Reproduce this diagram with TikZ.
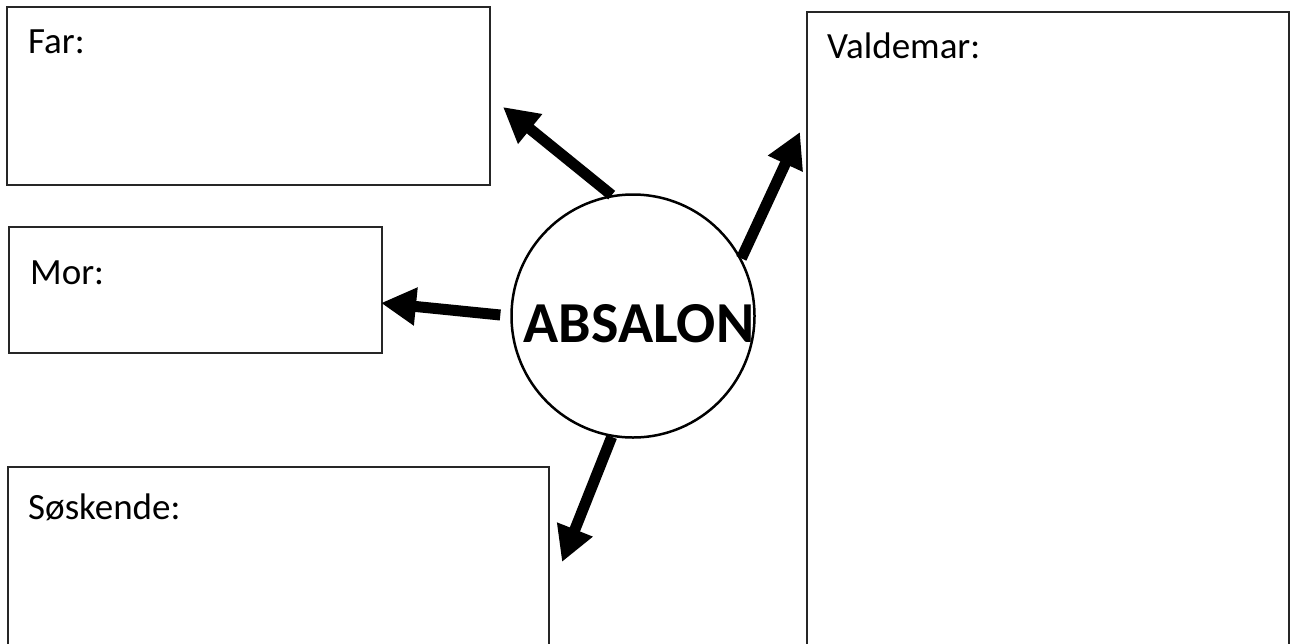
\documentclass[tikz,border=0pt]{standalone}
\usepackage{fontspec}
\setmainfont{Carlito}
\usetikzlibrary{arrows.meta}

\begin{document}
\begin{tikzpicture}[x=1pt,y=-1pt]
		\clip (0,0) rectangle (1290,643); %page
		\tikzset{mybox/.style={draw=black!85,line width=1.2pt,fill=white}}
		\tikzset{mytext/.style={anchor=base west,inner sep=0pt,font=\fontsize{37}{42}\selectfont}}
		\tikzset{bigarrow/.style={line width=11pt,-{Triangle[length=35pt,width=36pt]}}}
		\draw[mybox] (7,7) rectangle (490,185); %boxes
		\draw[mybox] (9,227) rectangle (382,353);
		\draw[mybox] (8,467) rectangle (549,660);
		\draw[mybox] (807,12) rectangle (1289,660);
		\node[mytext] (far) at (28,53) {Far:}; %box titles
		\node[mytext] (mor) at (30,284) {Mor:};
		\node[mytext] (soskende) at (28,519) {Søskende:};
		\node[mytext] (valdemar) at (827,58) {Valdemar:};
		\node[draw,circle,line width=2.5pt,minimum size=243pt,inner sep=0pt] (absalon) at (633,316) {}; %centre
		\node[inner sep=0pt,font=\bfseries\fontsize{58}{62}\selectfont] (name) at (639,324) {ABSALON};
		\coordinate (fartip) at (503,107); %arrow tips
		\coordinate (mortip) at (381,303);
		\coordinate (soskendetip) at (562,562);
		\coordinate (valdemartip) at (800,132);
		\foreach \a/\t/\g in {100/fartip/0,180/mortip/10,260/soskendetip/0,28/valdemartip/0}
			\draw[bigarrow,shorten <=\g pt] (absalon.\a) -- (\t);
	\end{tikzpicture}
\end{document}
